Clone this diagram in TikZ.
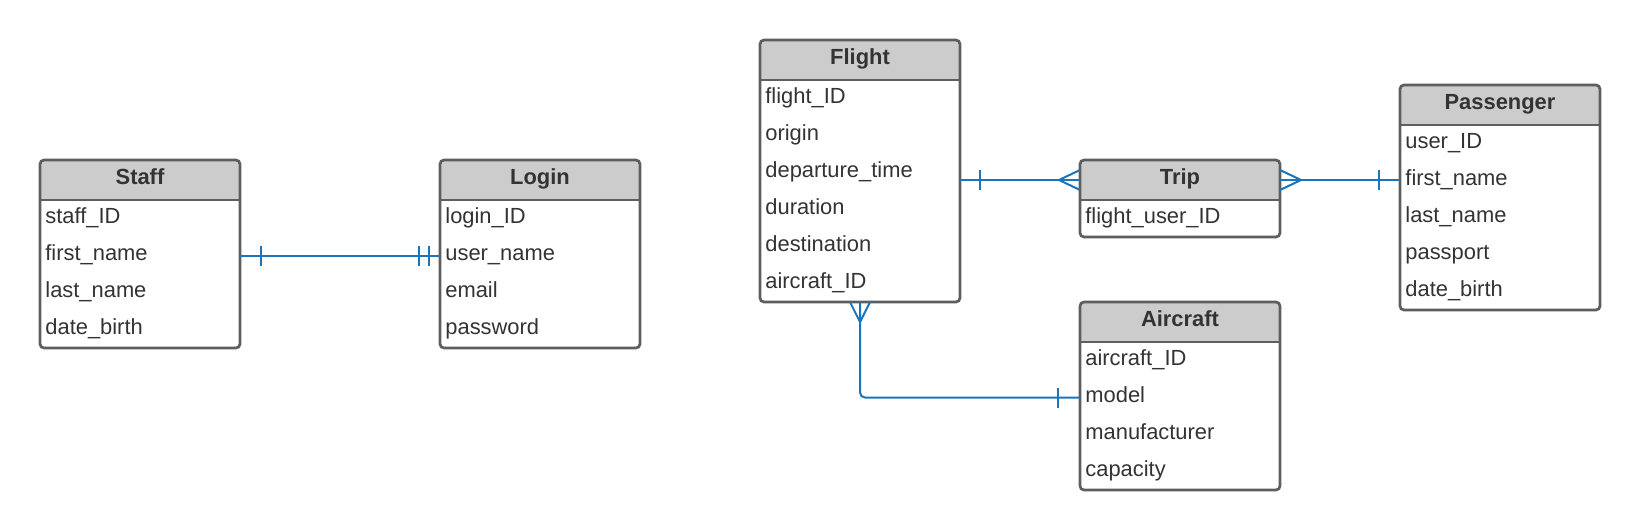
\documentclass[tikz,border=0pt]{standalone}
\usepackage{fontspec}
\setmainfont{Liberation Sans}
\usetikzlibrary{calc}
\definecolor{bordergray}{HTML}{5E5E5E}
\definecolor{hdrgray}{HTML}{CCCCCC}
\definecolor{txtgray}{HTML}{333333}
\definecolor{linkblue}{HTML}{1A75BB}
\tikzset{
  erborder/.style={draw=bordergray, line width=1.35pt, rounded corners=2pt, inner sep=0pt, outer sep=0pt, anchor=north west, minimum width=100pt},
  erhdrline/.style={draw=bordergray, line width=1.35pt},
  ertitle/.style={font=\fontsize{10.95}{13}\selectfont\bfseries, text=txtgray, inner sep=0pt, anchor=base},
  erfield/.style={font=\fontsize{10.95}{13}\selectfont, text=txtgray, inner sep=0pt, anchor=base west},
  link/.style={draw=linkblue, line width=1pt},
}
% #1 name, #2 x, #3 y, #4 title, #5 number of rows, #6 fields
\newcommand{\erentity}[6]{%
  \pgfmathsetmacro{\erhpx}{40+37*#5}%
  \pgfmathsetmacro{\erhpt}{\erhpx/2}%
  \begin{scope}
    \clip[rounded corners=2pt] (#2,#3) rectangle ++(200,\erhpx);
    \fill[hdrgray] (#2,#3) rectangle ++(200,40);
  \end{scope}
  \draw[erhdrline] (#2,#3+40) -- ++(200,0);
  \node[erborder, minimum height=\erhpt pt] (#1) at (#2,#3) {};
  \coordinate (#1-hc) at (#2,#3+20);
  \node[ertitle] (#1-title) at (#2+100,#3+24.5) {#4};
  \foreach \f [count=\i] in {#6} {
    \coordinate (#1-r\i) at (#2,#3+40+37*\i-18.5);
    \node[erfield] (#1-\i) at (#2+5,#3+40+37*\i-14) {\f};
  }%
}
\begin{document}
\begin{tikzpicture}[x=0.5pt, y=-0.5pt]
\useasboundingbox (0,0) rectangle (1640,530);

\erentity{staff}{40}{160}{Staff}{4}{staff\_ID, first\_name, last\_name, date\_birth}
\erentity{login}{440}{160}{Login}{4}{login\_ID, user\_name, email, password}
\erentity{flight}{760}{40}{Flight}{6}{flight\_ID, origin, departure\_time, duration, destination, aircraft\_ID}
\erentity{trip}{1080}{160}{Trip}{1}{flight\_user\_ID}
\erentity{passenger}{1400}{85}{Passenger}{5}{user\_ID, first\_name, last\_name, passport, date\_birth}
\erentity{aircraft}{1080}{302}{Aircraft}{4}{aircraft\_ID, model, manufacturer, capacity}

% Staff -- Login
\draw[link] (staff.east |- staff-r2) -- (login.west |- staff-r2);
\draw[link] ($(staff.east |- staff-r2)+(21,-10)$) -- ++(0,20);
\draw[link] ($(login.west |- staff-r2)+(-21,-10)$) -- ++(0,20);
\draw[link] ($(login.west |- staff-r2)+(-11,-10)$) -- ++(0,20);

% Flight -- Trip
\draw[link] (flight.east |- trip-hc) -- (trip.west |- trip-hc);
\draw[link] ($(flight.east |- trip-hc)+(20,-10)$) -- ++(0,20);
\draw[link] ($(trip.west |- trip-hc)+(0,-10)$) -- ($(trip.west |- trip-hc)+(-21,0)$) -- ($(trip.west |- trip-hc)+(0,10)$);

% Trip -- Passenger
\draw[link] (trip.east |- trip-hc) -- (passenger.west |- trip-hc);
\draw[link] ($(trip.east |- trip-hc)+(0,-10)$) -- ($(trip.east |- trip-hc)+(21,0)$) -- ($(trip.east |- trip-hc)+(0,10)$);
\draw[link] ($(passenger.west |- trip-hc)+(-21,-10)$) -- ++(0,20);

% Flight -- Aircraft
\draw[link, rounded corners=2.5pt] (flight.south) -- (flight.south |- aircraft-r2) -- (aircraft.west |- aircraft-r2);
\draw[link] ($(flight.south)+(-10,0)$) -- ($(flight.south)+(0,20)$) -- ($(flight.south)+(10,0)$);
\draw[link] ($(aircraft.west |- aircraft-r2)+(-22,-10)$) -- ++(0,20);
\end{tikzpicture}
\end{document}
